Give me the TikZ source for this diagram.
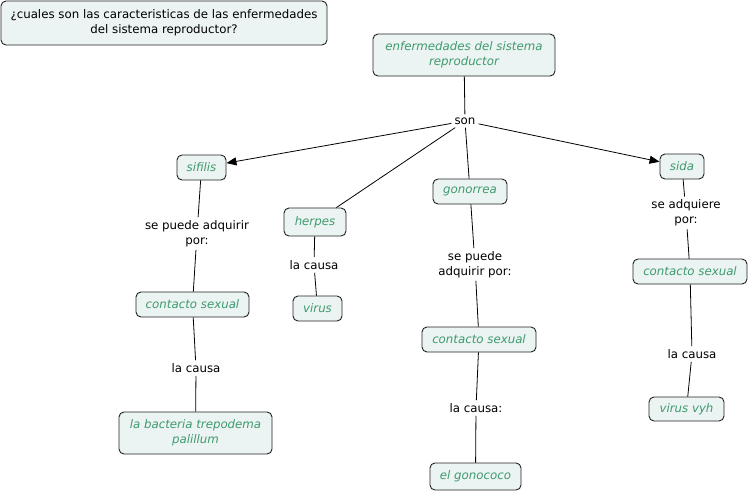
\documentclass[tikz,border=0pt]{standalone}
\usepackage{fontspec}
\setmainfont{DejaVu Sans}
\usetikzlibrary{arrows.meta}
\definecolor{cfill}{HTML}{EBF3F3}
\definecolor{ctext}{HTML}{3E9A6E}
\definecolor{cline}{HTML}{222222}
\begin{document}
\begin{tikzpicture}[x=1pt,y=-1pt,
  concept/.style={draw=cline, line width=0.9pt, fill=cfill, rounded corners=5pt,
    inner sep=0pt, align=center, text=ctext, font=\fontsize{11.8}{15}\selectfont\itshape},
  linkph/.style={inner sep=3pt, align=center, text=black, font=\fontsize{11.8}{15}\selectfont},
  conn/.style={draw=black, line width=0.8pt},
  arr/.style={conn, -{Triangle[length=10pt,width=8pt]}}
]
\useasboundingbox (0,0) rectangle (749,493);
\fill[white] (0,0) rectangle (749,493);

% title
\node[concept, text=black, font=\fontsize{11.8}{15}\selectfont, minimum width=326pt, minimum height=44pt] (title) at (164,23)
  {¿cuales son las caracteristicas de las enfermedades\\del sistema reproductor?};

% concepts
\node[concept, minimum width=182pt, minimum height=42pt] (main) at (464,55) {enfermedades del sistema\\reproductor};
\node[concept, minimum width=49pt, minimum height=25pt] (sif) at (201.5,167.5) {sifilis};
\node[concept, minimum width=62pt, minimum height=28pt] (her) at (315,222) {herpes};
\node[concept, minimum width=74pt, minimum height=25pt] (gon) at (470,191.5) {gonorrea};
\node[concept, minimum width=44pt, minimum height=25pt] (sida) at (682,166.5) {sida};
\node[concept, minimum width=113pt, minimum height=25pt] (cs1) at (192.5,304.5) {contacto sexual};
\node[concept, minimum width=49pt, minimum height=25pt] (vir) at (317.5,308.5) {virus};
\node[concept, minimum width=153pt, minimum height=42pt] (bac) at (195.5,433) {la bacteria trepodema\\palillum};
\node[concept, minimum width=114pt, minimum height=25pt] (cs2) at (479,339.5) {contacto sexual};
\node[concept, minimum width=91pt, minimum height=27pt] (gono) at (475.5,476.5) {el gonococo};
\node[concept, minimum width=114pt, minimum height=25pt] (cs3) at (690,271.5) {contacto sexual};
\node[concept, minimum width=75pt, minimum height=24pt] (vvyh) at (686.5,409) {virus vyh};

% linking phrases
\node[linkph] (son) at (465,121) {son};
\node[linkph] (l1) at (197,233.5) {se puede adquirir\\por:};
\node[linkph] (l2) at (314,265) {la causa};
\node[linkph] (l3) at (196,368) {la causa};
\node[linkph] (l4) at (475,264.5) {se puede\\adquirir por:};
\node[linkph] (l5) at (476,408) {la causa:};
\node[linkph] (l6) at (686,213) {se adquiere\\por:};
\node[linkph] (l7) at (692,354) {la causa};

% connectors
\draw[conn] (main) -- (son);
\draw[arr] (son) -- (sif);
\draw[conn] (son) -- (her);
\draw[conn] (son) -- (gon);
\draw[arr] (son) -- (sida);
\draw[conn] (sif) -- (l1);
\draw[conn] (l1) -- (cs1);
\draw[conn] (cs1) -- (l3);
\draw[conn] (l3) -- (bac);
\draw[conn] (her) -- (l2);
\draw[conn] (l2) -- (vir);
\draw[conn] (gon) -- (l4);
\draw[conn] (l4) -- (cs2);
\draw[conn] (cs2) -- (l5);
\draw[conn] (l5) -- (gono);
\draw[conn] (sida) -- (l6);
\draw[conn] (l6) -- (cs3);
\draw[conn] (cs3) -- (l7);
\draw[conn] (l7) -- (vvyh);
\end{tikzpicture}
\end{document}
